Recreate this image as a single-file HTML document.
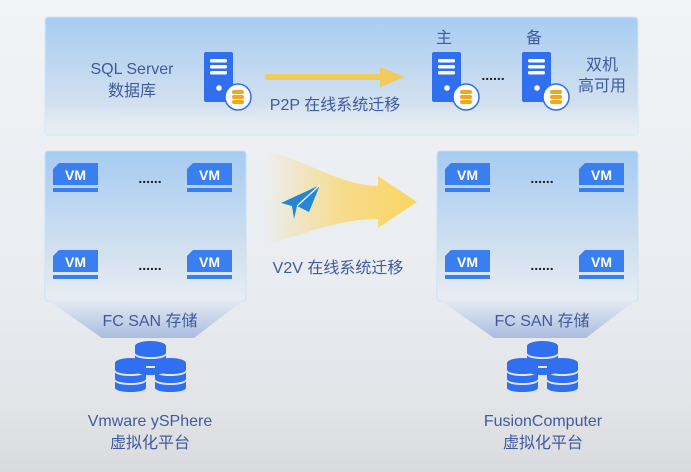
<!DOCTYPE html>
<html><head><meta charset="utf-8"><style>
html,body{margin:0;padding:0;width:691px;height:472px;overflow:hidden}
body{background:linear-gradient(#f1f3f6 0%,#e9ecf0 60%,#e2e4e8 85%,#d9dbde 100%)}
svg text{font-family:"Liberation Sans","Noto Sans CJK SC",sans-serif;fill:#3f5a9e}
</style></head><body>
<svg width="691" height="472" viewBox="0 0 691 472" xmlns="http://www.w3.org/2000/svg">
<defs>
<linearGradient id="pt" x1="0" y1="0" x2="0" y2="1">
<stop offset="0" stop-color="#a7cdf3"/><stop offset="0.75" stop-color="#d3e1ef"/><stop offset="1" stop-color="#e6ebf1" stop-opacity="0.4"/></linearGradient>
<linearGradient id="pv" x1="0" y1="0" x2="0" y2="1">
<stop offset="0" stop-color="#a6cbf2"/><stop offset="0.7" stop-color="#d4e2f0"/><stop offset="1" stop-color="#e8edf3"/></linearGradient>
<linearGradient id="tz" x1="0" y1="0" x2="0" y2="1">
<stop offset="0" stop-color="#e8edf3"/><stop offset="1" stop-color="#a9bde0"/></linearGradient>
<linearGradient id="ar" x1="0" y1="0" x2="1" y2="0">
<stop offset="0" stop-color="#f5dc90" stop-opacity="0"/><stop offset="0.5" stop-color="#f6dc8c"/><stop offset="1" stop-color="#fad563"/></linearGradient>
<g id="srv">
<rect x="0" y="0" width="29" height="50" rx="2" fill="#2f6ff0"/>
<rect x="6" y="7" width="17" height="3.5" rx="1.5" fill="#fff"/>
<rect x="6" y="13" width="17" height="3.5" rx="1.5" fill="#fff"/>
<rect x="6" y="19" width="17" height="3.5" rx="1.5" fill="#fff"/>
<circle cx="15" cy="36" r="2.8" fill="#fff"/>
<circle cx="34" cy="45" r="13" fill="#fff" stroke="#2f6ff0" stroke-width="1.5"/>
<rect x="28" y="38" width="12" height="4" rx="2" fill="#f0a81e"/>
<rect x="28" y="43" width="12" height="4" rx="2" fill="#f0a81e"/>
<rect x="28" y="48" width="12" height="4" rx="2" fill="#f0a81e"/>
</g>
<g id="vm">
<path d="M6 0H45V22H0V6Z" fill="#3a7ff0"/>
<rect x="0" y="25" width="45" height="4" fill="#3a7ff0"/>
<text x="22.5" y="17" text-anchor="middle" font-size="14" font-weight="bold" style="fill:#fff">VM</text>
</g>
<g id="cyl">
<ellipse cx="15.5" cy="5" rx="15.5" ry="5" fill="#2f6ff0"/>
<path d="M0 5V12A15.5 4 0 0 0 31 12V5Z" fill="#2f6ff0"/>
<path d="M0 14V21A15.5 4 0 0 0 31 21V14A15.5 4 0 0 1 0 14Z" fill="#2f6ff0"/>
<path d="M0 23V30A15.5 4 0 0 0 31 30V23A15.5 4 0 0 1 0 23Z" fill="#2f6ff0"/>
</g>
<g id="plat">
<rect x="0" y="0" width="201" height="150" rx="3" fill="url(#pv)" stroke="#c5e2f6" stroke-width="1"/>
<path d="M0 147H201L149 187H57Z" fill="url(#tz)"/>
<use href="#vm" x="8" y="12"/>
<use href="#vm" x="142" y="12"/>
<use href="#vm" x="8" y="99"/>
<use href="#vm" x="142" y="99"/>
<text x="105" y="32" text-anchor="middle" font-size="14" font-weight="bold" style="fill:#222">......</text>
<text x="105" y="119" text-anchor="middle" font-size="14" font-weight="bold" style="fill:#222">......</text>
<text x="105" y="175" text-anchor="middle" font-size="16">FC SAN 存储</text>
<use href="#cyl" x="90" y="190"/>
<use href="#cyl" x="70" y="207"/>
<use href="#cyl" x="110" y="207"/>
</g>
</defs>
<rect x="45" y="17" width="593" height="118" rx="3" fill="url(#pt)" stroke="#cfeaf7" stroke-width="1"/>
<text x="132" y="74" text-anchor="middle" font-size="16">SQL Server</text>
<text x="132" y="96" text-anchor="middle" font-size="16">数据库</text>
<use href="#srv" x="204" y="52"/>
<path d="M268 77H382" stroke="#f0cb5c" stroke-width="6" stroke-linecap="round"/>
<path d="M380 67L405 77L380 87Z" fill="#f0cb5c"/>
<text x="335" y="110" text-anchor="middle" font-size="16">P2P 在线系统迁移</text>
<text x="444" y="43" text-anchor="middle" font-size="16">主</text>
<text x="534" y="43" text-anchor="middle" font-size="16">备</text>
<use href="#srv" x="432" y="52"/>
<use href="#srv" x="522" y="52"/>
<text x="493" y="80" text-anchor="middle" font-size="14" font-weight="bold" style="fill:#222">......</text>
<text x="602" y="70" text-anchor="middle" font-size="16">双机</text>
<text x="602" y="91" text-anchor="middle" font-size="16">高可用</text>
<path d="M265 150C310 162 340 185 378 186V176L417 202L378 228V219C340 219 310 232 265 245Z" fill="url(#ar)"/>
<path d="M281 203L320 185L309 212L297 206L294 219L292 206Z" fill="#2386d6"/>
<path d="M297 206L320 185" stroke="#fff" stroke-width="1.2"/>
<text x="338" y="273" text-anchor="middle" font-size="16">V2V 在线系统迁移</text>
<use href="#plat" x="45" y="151"/>
<use href="#plat" x="437" y="151"/>
<text x="150" y="426" text-anchor="middle" font-size="16">Vmware ySPhere</text>
<text x="150" y="448" text-anchor="middle" font-size="16">虚拟化平台</text>
<text x="543" y="426" text-anchor="middle" font-size="16">FusionComputer</text>
<text x="543" y="448" text-anchor="middle" font-size="16">虚拟化平台</text>
</svg>
</body></html>
